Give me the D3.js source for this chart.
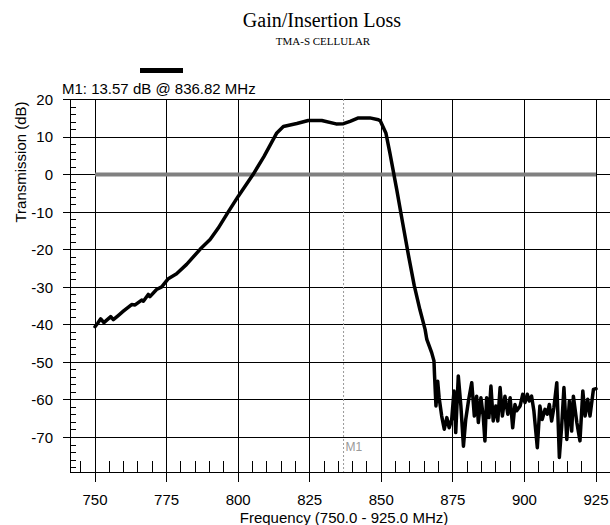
<!DOCTYPE html>
<html>
<head>
<meta charset="utf-8">
<script src="https://cdn.jsdelivr.net/npm/d3@7/dist/d3.min.js"></script>
<style>
  html, body { margin: 0; padding: 0; background: #fff; }
  svg { display: block; }
</style>
</head>
<body>
<script>
// ---- data ----
const titleText = "Gain/Insertion Loss";
const subtitleText = "TMA-S CELLULAR";
const markerLabel = "M1: 13.57 dB @ 836.82 MHz";
const markerFreq = 836.82;
const xTicks = [750, 775, 800, 825, 850, 875, 900, 925];
const yTicks = [20, 10, 0, -10, -20, -30, -40, -50, -60, -70];
const refLevel = 0;

const freqMHz = [
  750, 751, 752, 753.1, 754, 755.5, 756.4, 758, 760, 762.8, 764, 766.3, 766.9, 768.6, 769.2,
  771.5, 773.3, 775.6, 778.5, 782, 786.7, 790.2, 793, 796.5, 800, 805.2, 809, 813.5, 815.8,
  820.5, 824.5, 829.2, 834.2, 836.8, 839.1, 842, 846, 849, 849.6, 851.6, 853, 855.4, 857.5,
  859.5, 861.5, 863.5, 865.3, 865.9, 867.6, 868.4, 868.6, 869.1, 869.7, 870.2, 871.1, 872.0,
  872.9, 873.7, 874.6, 875.4, 876.0, 876.9, 877.8, 878.7, 879.5, 880.5, 881.6, 882.5, 883.3,
  883.9, 884.8, 885.6, 886.2, 886.8, 887.6, 888.3, 889.1, 890.0, 890.7, 891.5, 892.3, 893.2,
  894.2, 895.0, 895.9, 896.7, 897.3, 898.5, 899.4, 900.2, 901.0, 901.7, 902.5, 903.3, 904.5,
  905.4, 906.2, 907.2, 908.0, 908.7, 909.5, 910.3, 911.3, 912.2, 913.0, 913.8, 914.8, 915.7,
  916.5, 917.1, 918.3, 919.4, 920.4, 921.2, 922.1, 922.9, 924.1, 925
];
const transmissionDb = [
  -40.5, -39.5, -38.4, -39.4, -38.8, -37.8, -38.6, -37.6, -36.3, -34.6, -34.7, -33.4, -33.7, -31.9, -32.5,
  -30.6, -29.9, -27.7, -26.4, -23.9, -19.9, -17.3, -14.3, -10, -5.8, 0, 4.8, 11.1, 12.8,
  13.6, 14.4, 14.4, 13.5, 13.57, 14.2, 15.1, 15.1, 14.6, 14.4, 11.1, 5.8, -4.0, -13,
  -21.5, -29.5, -36, -41.2, -43.9, -47.4, -49.6, -53.4, -61.6, -55, -59.4, -64.3, -67.8,
  -64.7, -67.4, -65.2, -57.6, -68.7, -53.6, -61.6, -72.3, -65.2, -60, -55.4, -64.3, -59,
  -66, -59.4, -64.3, -70.9, -59.4, -64.7, -56.3, -65.6, -61.6, -65.6, -56.7, -64.3, -59,
  -63.8, -59.4, -67.4, -61.2, -62.9, -61.6, -58.5, -60.7, -58.5, -60.3, -59, -62.9, -72.7,
  -61.6, -65.2, -62.5, -63.8, -61.2, -65.6, -62, -55.4, -75.3, -67.1, -56.7, -70.5, -60.3,
  -68.3, -59, -66, -70.9, -57.6, -64.3, -59.8, -64.3, -57.2, -57
];

// ---- layout ----
const W = 610, H = 525;
const frame = { left: 70, top: 99, right: 610, bottom: 472 };
const sansFont = "'Liberation Sans', Arial, Helvetica, sans-serif";
const serifFont = "'Liberation Serif', 'Times New Roman', serif";

const svg = d3.select("body").append("svg").attr("width", W).attr("height", H);

const x = d3.scaleLinear().domain([750, 925]).range([95, 596]);
const y = d3.scaleLinear().domain([-70, 20]).range([437.5, 99.5]);

// title
svg.append("text").attr("x", 322).attr("y", 27).attr("text-anchor", "middle")
  .attr("font-family", serifFont).attr("font-size", 20).attr("fill", "#000").text(titleText);
svg.append("text").attr("x", 323).attr("y", 45).attr("text-anchor", "middle")
  .attr("font-family", serifFont).attr("font-size", 11).attr("fill", "#000").text(subtitleText);

// legend swatch
svg.append("rect").attr("x", 140).attr("y", 68).attr("width", 43).attr("height", 5).attr("fill", "#000");

// marker readout
svg.append("text").attr("x", 62).attr("y", 94).attr("font-family", sansFont).attr("font-size", 15)
  .attr("fill", "#000").text(markerLabel);

const grid = svg.append("g").attr("shape-rendering", "crispEdges");

// horizontal gridlines (with outward tick)
grid.selectAll("line.hg").data(yTicks).join("line").attr("class", "hg")
  .attr("x1", frame.left - 7).attr("x2", frame.right)
  .attr("y1", d => y(d)).attr("y2", d => y(d))
  .attr("stroke", "#000").attr("stroke-width", 1);

// minor y ticks every 2 dB
const yMinor = d3.range(-78, 20, 2).filter(v => v % 10 !== 0);
grid.selectAll("line.ym").data(yMinor).join("line").attr("class", "ym")
  .attr("x1", frame.left).attr("x2", frame.left + 6)
  .attr("y1", d => y(d)).attr("y2", d => y(d))
  .attr("stroke", "#000").attr("stroke-width", 1);

// vertical gridlines extending below baseline as major ticks
grid.selectAll("line.vg").data(xTicks).join("line").attr("class", "vg")
  .attr("x1", d => x(d)).attr("x2", d => x(d))
  .attr("y1", frame.top).attr("y2", frame.bottom + 10)
  .attr("stroke", "#000").attr("stroke-width", 1);

// minor x ticks every 5 MHz
const xMinor = d3.range(745, 926, 5).filter(v => v % 25 !== 0);
grid.selectAll("line.xm").data(xMinor).join("line").attr("class", "xm")
  .attr("x1", d => x(d)).attr("x2", d => x(d))
  .attr("y1", frame.bottom - 11).attr("y2", frame.bottom)
  .attr("stroke", "#000").attr("stroke-width", 1);

// frame: left axis and baseline
grid.append("line").attr("x1", frame.left).attr("x2", frame.left).attr("y1", frame.top).attr("y2", frame.bottom)
  .attr("stroke", "#000");
grid.append("line").attr("x1", frame.left).attr("x2", frame.right).attr("y1", frame.bottom).attr("y2", frame.bottom)
  .attr("stroke", "#000");

// y tick labels
svg.selectAll("text.yl").data(yTicks).join("text").attr("class", "yl")
  .attr("x", 53).attr("y", d => y(d)).attr("dy", "0.36em").attr("text-anchor", "end")
  .attr("font-family", sansFont).attr("font-size", 15).attr("fill", "#000").text(d => d);

// x tick labels
svg.selectAll("text.xl").data(xTicks).join("text").attr("class", "xl")
  .attr("x", d => x(d)).attr("y", 505).attr("text-anchor", "middle")
  .attr("font-family", sansFont).attr("font-size", 15).attr("fill", "#000").text(d => d);

// axis titles
svg.append("text").attr("transform", "translate(26,162) rotate(-90)").attr("text-anchor", "middle")
  .attr("font-family", sansFont).attr("font-size", 15).attr("fill", "#000").text("Transmission (dB)");
svg.append("text").attr("x", 344).attr("y", 523).attr("text-anchor", "middle")
  .attr("font-family", sansFont).attr("font-size", 15).attr("fill", "#000").text("Frequency (750.0 - 925.0 MHz)");

// reference line at 0 dB
svg.append("line").attr("x1", x(750)).attr("x2", x(925)).attr("y1", y(refLevel)).attr("y2", y(refLevel))
  .attr("stroke", "#808080").attr("stroke-width", 4);

// marker line
svg.append("line").attr("x1", x(markerFreq)).attr("x2", x(markerFreq))
  .attr("y1", frame.top).attr("y2", frame.bottom)
  .attr("stroke", "#999").attr("stroke-width", 1).attr("stroke-dasharray", "2,2");
svg.append("text").attr("x", x(markerFreq) + 2).attr("y", 451)
  .attr("font-family", sansFont).attr("font-size", 12).attr("fill", "#999").text("M1");

// trace
const pts = freqMHz.map((f, i) => [f, transmissionDb[i]]);
const line = d3.line().x(d => x(d[0])).y(d => y(d[1]));
svg.append("path").datum(pts).attr("d", line)
  .attr("fill", "none").attr("stroke", "#000").attr("stroke-width", 3.5)
  .attr("stroke-linejoin", "round").attr("stroke-linecap", "round");
</script>
</body>
</html>
